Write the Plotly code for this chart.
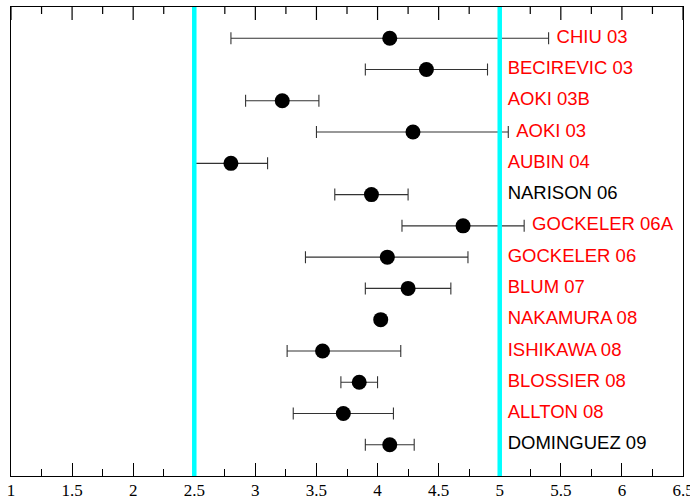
import numpy as np
import plotly.graph_objects as go

names = ["CHIU 03", "BECIREVIC 03", "AOKI 03B", "AOKI 03", "AUBIN 04", "NARISON 06",
         "GOCKELER 06A", "GOCKELER 06", "BLUM 07", "NAKAMURA 08", "ISHIKAWA 08",
         "BLOSSIER 08", "ALLTON 08", "DOMINGUEZ 09"]
values = [4.10, 4.40, 3.22, 4.29, 2.80, 3.95, 4.70, 4.08, 4.25, 4.026, 3.55, 3.85, 3.72, 4.10]
err_plus = [1.30, 0.50, 0.30, 0.78, 0.30, 0.30, 0.50, 0.66, 0.35, 0.03, 0.64, 0.15, 0.41, 0.20]
err_minus = [1.30, 0.50, 0.30, 0.79, 0.30, 0.30, 0.50, 0.67, 0.35, 0.03, 0.29, 0.15, 0.41, 0.20]
label_colors = ["red", "red", "red", "red", "red", "black", "red", "red", "red", "red",
                "red", "red", "red", "black"]
band = [2.5, 5.0]
x_range = [1, 6.5]
major_step = 0.5
minor_step = 0.25

idx = list(range(len(names)))
y_range = [len(names), -1]
label_x = [max(band[1] + 0.065, v + p + 0.065) for v, p in zip(values, err_plus)]

all_ticks = np.arange(x_range[0], x_range[1] + 1e-9, minor_step)

fig = go.Figure()
fig.add_trace(go.Scatter(
    x=values, y=idx, mode="markers",
    marker=dict(color="black", size=15),
    error_x=dict(type="data", array=err_plus, arrayminus=err_minus, symmetric=False,
                 color="#333333", thickness=1.1, width=6),
    showlegend=False, hoverinfo="skip"))
fig.add_trace(go.Scatter(
    x=label_x, y=idx, mode="text", text=names, textposition="middle right",
    textfont=dict(family="Liberation Sans, Arial", size=18.5, color=label_colors),
    showlegend=False, hoverinfo="skip", cliponaxis=False))

# mirrored tick marks along the top frame
for t in all_ticks:
    k = (t - x_range[0]) / major_step
    is_major = abs(k - round(k)) < 1e-6
    fig.add_shape(type="line", xref="x", yref="paper", ysizemode="pixel", yanchor=1,
                  x0=t, x1=t, y0=0, y1=-13 if is_major else -7,
                  line=dict(color="black", width=1.2), layer="above")

for b in band:
    fig.add_shape(type="line", x0=b, x1=b, y0=0, y1=1, xref="x", yref="paper",
                  line=dict(color="#00FFFF", width=4.5), layer="above")

fig.update_layout(
    width=690, height=500,
    margin=dict(l=11, r=7, t=7, b=24),
    paper_bgcolor="white", plot_bgcolor="white",
    xaxis=dict(range=x_range, tickmode="linear", tick0=x_range[0], dtick=major_step,
               ticks="inside", ticklen=13, tickwidth=1.2, tickcolor="black",
               minor=dict(dtick=minor_step, tick0=x_range[0], ticks="inside", ticklen=7,
                          tickwidth=1.2, tickcolor="black", showgrid=False),
               showgrid=False, zeroline=False, automargin=False,
               showline=True, linecolor="black", linewidth=1.3, mirror=True,
               ticklabeloverflow="allow", ticklabelstandoff=-2,
               tickfont=dict(family="Liberation Serif, Times New Roman", size=17, color="black")),
    yaxis=dict(range=y_range, showticklabels=False, ticks="", showgrid=False,
               zeroline=False, showline=True, linecolor="black", linewidth=1.3, mirror=True,
               automargin=False),
)

fig.write_html("out.html")
